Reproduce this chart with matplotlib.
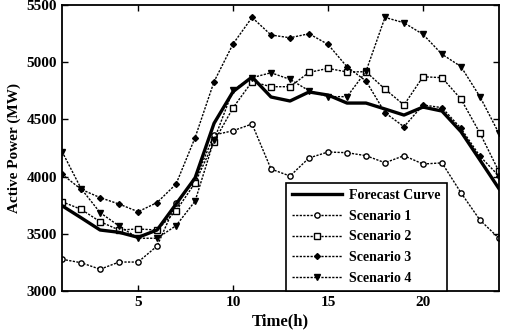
import numpy as np
import matplotlib
matplotlib.use("Agg")
import matplotlib.pyplot as plt

hours = np.arange(1, 25)

forecast = [3745, 3640, 3533, 3513, 3469, 3533, 3760, 3988, 4466, 4743, 4871, 4696,
            4661, 4740, 4713, 4643, 4643, 4591, 4538, 4608, 4573, 4393, 4145, 3895]
scen1 = [3277, 3247, 3190, 3253, 3253, 3393, 3767, 3970, 4364, 4401, 4460, 4066,
         4005, 4163, 4215, 4209, 4183, 4121, 4183, 4110, 4120, 3859, 3620, 3461]
scen2 = [3780, 3714, 3606, 3533, 3542, 3533, 3700, 3945, 4305, 4602, 4830, 4786,
         4786, 4911, 4946, 4915, 4917, 4765, 4626, 4873, 4865, 4678, 4380, 4045]
scen3 = [4020, 3889, 3816, 3760, 3693, 3773, 3935, 4340, 4830, 5160, 5392, 5238,
         5214, 5249, 5156, 4960, 4836, 4559, 4436, 4626, 4603, 4422, 4178, 4005]
scen4 = [4218, 3895, 3685, 3568, 3461, 3461, 3571, 3785, 4320, 4757, 4865, 4908,
         4850, 4751, 4699, 4699, 4920, 5392, 5345, 5244, 5070, 4962, 4699, 4378]

plt.rcParams['font.family'] = ['Liberation Serif', 'DejaVu Serif']
plt.rcParams['font.weight'] = 'bold'

fig = plt.figure(figsize=(5.05, 3.36), dpi=100)
ax = fig.add_axes([0.123, 0.134, 0.865, 0.851])

dash = (0, (1.6, 1))
ax.plot(hours, forecast, 'k-', lw=2.4, label="Forecast Curve", zorder=5)
ax.plot(hours, scen1, color='k', ls=dash, lw=1, marker='o', ms=3.8,
        mfc='white', mew=1, label="Scenario 1")
ax.plot(hours, scen2, color='k', ls=dash, lw=1, marker='s', ms=3.8,
        mfc='white', mew=1, label="Scenario 2")
ax.plot(hours, scen3, color='k', ls=dash, lw=1, marker='D', ms=3,
        mfc='k', mew=1, label="Scenario 3")
ax.plot(hours, scen4, color='k', ls=dash, lw=1, marker='v', ms=3.8,
        mfc='k', mew=1, label="Scenario 4")

ax.set_xlim([1, 24])
ax.set_ylim([3000, 5500])
ax.set_xticks([5, 10, 15, 20])
ax.set_yticks([3000, 3500, 4000, 4500, 5000, 5500])
ax.tick_params(direction='in', top=True, right=True, labelsize=11, length=4, width=1)
for s in ax.spines.values():
    s.set_linewidth(1.3)
for lab in ax.get_xticklabels() + ax.get_yticklabels():
    lab.set_fontweight('bold')

ax.set_xlabel('Time(h)', fontsize=12, fontweight='bold', labelpad=3)
ax.set_ylabel('Active Power (MW)', fontsize=11, fontweight='bold', labelpad=4)

leg = ax.legend(loc='lower center', bbox_to_anchor=(0.697, 0.0), borderaxespad=0,
                handlelength=3.6, handletextpad=0.5, labelspacing=0.55,
                fancybox=False, edgecolor='k', framealpha=1, borderpad=0.45,
                prop={'weight': 'bold', 'size': 10})
leg.get_frame().set_linewidth(1.2)

fig.savefig("out.png", dpi=100)
